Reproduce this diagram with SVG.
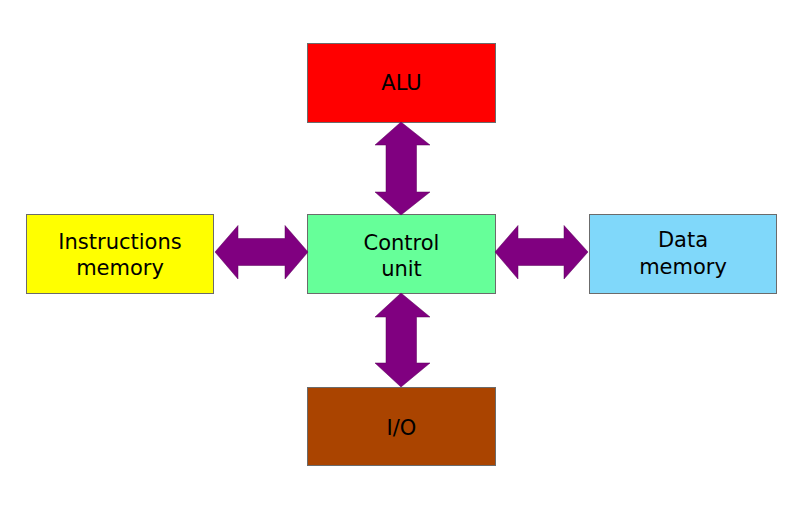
<svg xmlns="http://www.w3.org/2000/svg" width="800" height="509" viewBox="0 0 800 509">
<style>
.box{stroke:#6b6b6b;stroke-width:1}
.lbl{font-family:"DejaVu Sans",sans-serif;font-size:21px;fill:#000;text-anchor:middle}
.arr{fill:#800080;stroke:#5a005a;stroke-width:0.5}
</style>
<rect width="800" height="509" fill="#fff"/>
<g id="alu"><rect class="box" x="307.5" y="43.5" width="188" height="79" fill="#ff0000"/><text class="lbl" x="401.5" y="89.5">ALU</text></g>
<g id="control"><rect class="box" x="307.5" y="214.5" width="188" height="79" fill="#66ff99"/><text class="lbl" x="401.5" y="249.5">Control</text><text class="lbl" x="401.5" y="275.5">unit</text></g>
<g id="imem"><rect class="box" x="26.5" y="214.5" width="187" height="79" fill="#ffff00"/><text class="lbl" x="120" y="248.5">Instructions</text><text class="lbl" x="120" y="274.5">memory</text></g>
<g id="dmem"><rect class="box" x="589.5" y="214.5" width="187" height="79" fill="#80d8fa"/><text class="lbl" x="683" y="246.5">Data</text><text class="lbl" x="683" y="273.5">memory</text></g>
<g id="io"><rect class="box" x="307.5" y="387.5" width="188" height="78" fill="#aa4400"/><text class="lbl" x="401.5" y="434.5">I/O</text></g>
<g id="connectors">
<path class="arr" d="M401,122 L430,145 L416.5,145 L416.5,192 L430,192 L401,215 L375,192 L386,192 L386,145 L375,145 Z"/>
<path class="arr" d="M401,293 L430,317 L416.5,317 L416.5,363 L430,363 L401,387 L375,363 L386,363 L386,317 L375,317 Z"/>
<path class="arr" d="M215,252 L238,225.5 L238,238.5 L285,238.5 L285,225.5 L308,252 L285,279 L285,265.5 L238,265.5 L238,279 Z"/>
<path class="arr" d="M495,252 L518,225.5 L518,238.5 L564,238.5 L564,225.5 L588,252 L564,279 L564,265.5 L518,265.5 L518,279 Z"/>
</g>
</svg>
